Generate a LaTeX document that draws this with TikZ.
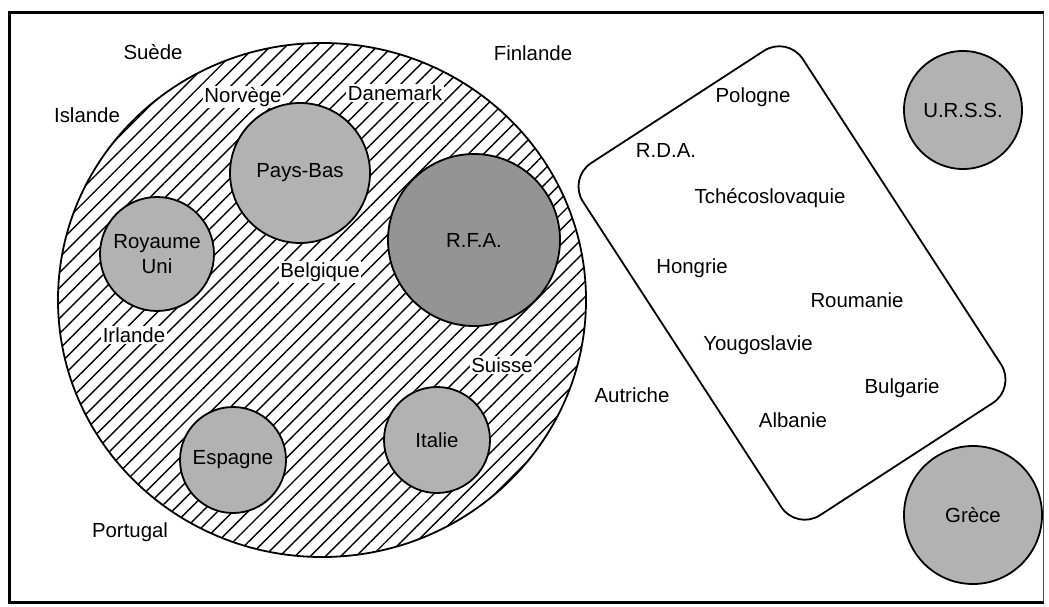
\documentclass[tikz,border=0pt]{standalone}
\usepackage{fontspec}
\setmainfont{Liberation Sans}
\usetikzlibrary{patterns.meta,shapes.geometric}
\tikzset{
  lbl/.style={font=\fontsize{20.4}{24.5}\selectfont, inner sep=0pt},
  inlbl/.style={lbl, fill=white, inner sep=1.5pt},
  country/.style={circle, draw, line width=1.8pt, fill=black!30, inner sep=0pt,
    align=center, font=\fontsize{20.4}{24.5}\selectfont},
  dark/.style={fill=black!42},
  hatched/.style={ellipse, draw, line width=1.8pt, inner sep=0pt,
    pattern={Lines[angle=45,distance=10.8pt,line width=1.4pt]}},
  blocbox/.style={draw, line width=1.8pt, rounded corners=28pt, inner sep=0pt,
    minimum width=420pt, minimum height=262pt},
  framestyle/.style={line width=3pt},
}
\begin{document}
\begin{tikzpicture}[x=1pt,y=-1pt]
\useasboundingbox (0,0) rectangle (1049,607);
\fill[white] (0,0) rectangle (1049,607);
% frame
\draw[framestyle] (1044,13) -- (9,13) -- (9,602) -- (1044,602);
\draw[line width=1pt, black!70] (1043,13) -- (1043,602);

% CEE big hatched disc
\node[hatched, minimum width=528pt, minimum height=514pt] (cee) at (322,300) {};

% labels inside the hatched disc (white ground)
\node[inlbl] (norvege) at (243,97) {Norvège};
\node[inlbl] (danemark) at (395,93) {Danemark};
\node[inlbl] (belgique) at (320,272) {Belgique};
\node[inlbl] (irlande) at (134,335) {Irlande};
\node[inlbl] (suisse) at (502,365) {Suisse};

% member circles
\node[country, minimum size=114pt] (uk) at (157,254) {Royaume\\Uni};
\node[country, minimum size=140pt] (pb) at (300,173) {Pays-Bas};
\node[country, dark, minimum size=172pt] (rfa) at (474,240) {R.F.A.};
\node[country, minimum size=106pt] (esp) at (233,460) {Espagne};
\node[country, minimum size=106pt] (ita) at (437,440) {Italie};

% eastern bloc box
\node[blocbox, rotate=-57] (bloc) at (792,283) {};

% outside circles
\node[country, minimum size=118pt] (urss) at (963,110) {U.R.S.S.};
\node[country, minimum size=138pt] (gr) at (973,515) {Grèce};

% labels
\node[lbl] (suede) at (153,52) {Suède};
\node[lbl] (islande) at (87,115) {Islande};
\node[lbl] (finlande) at (533,53) {Finlande};
\node[lbl] (portugal) at (130,532) {Portugal};
\node[lbl] (autriche) at (632,395) {Autriche};

\node[lbl] (pologne) at (753,97) {Pologne};
\node[lbl] (rda) at (666,150) {R.D.A.};
\node[lbl] (tcheco) at (770,198) {Tchécoslovaquie};
\node[lbl] (hongrie) at (692,268) {Hongrie};
\node[lbl] (roumanie) at (857,300) {Roumanie};
\node[lbl] (yougo) at (758,345) {Yougoslavie};
\node[lbl] (bulgarie) at (902,388) {Bulgarie};
\node[lbl] (albanie) at (793,420) {Albanie};
\end{tikzpicture}
\end{document}
